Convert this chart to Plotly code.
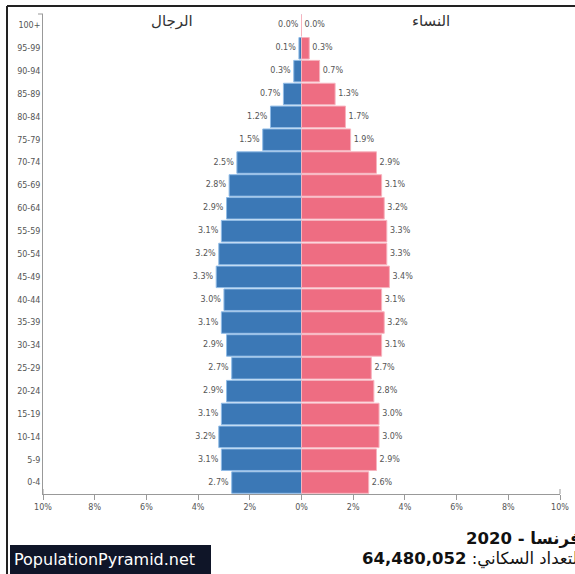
import plotly.graph_objects as go

age_groups = ["0-4", "5-9", "10-14", "15-19", "20-24", "25-29", "30-34", "35-39",
              "40-44", "45-49", "50-54", "55-59", "60-64", "65-69", "70-74", "75-79",
              "80-84", "85-89", "90-94", "95-99", "100+"]
male_pct = [2.7, 3.1, 3.2, 3.1, 2.9, 2.7, 2.9, 3.1, 3.0, 3.3, 3.2, 3.1, 2.9, 2.8, 2.5, 1.5,
            1.2, 0.7, 0.3, 0.1, 0.0]
female_pct = [2.6, 2.9, 3.0, 3.0, 2.8, 2.7, 3.1, 3.2, 3.1, 3.4, 3.3, 3.3, 3.2, 3.1, 2.9, 1.9,
              1.7, 1.3, 0.7, 0.3, 0.0]
x_tick_vals = [-10, -8, -6, -4, -2, 0, 2, 4, 6, 8, 10]
x_tick_text = ["10%", "8%", "6%", "4%", "2%", "0%", "2%", "4%", "6%", "8%", "10%"]

W, H = 575, 574
ML, MR, MT, MB = 43, 15, 14, 80
PW, PH = W - ML - MR, H - MT - MB


def px_x(p):
    return (p - ML) / PW


def px_y(p):
    return (H - MB - p) / PH


BLUE = "#3b78b6"
PINK = "#ee6d82"
FONT = "DejaVu Sans"

fig = go.Figure()
fig.add_trace(go.Bar(
    y=age_groups, x=[-v for v in male_pct], orientation="h",
    marker=dict(color=BLUE, line=dict(color="#8fbbe6", width=1)),
    hoverinfo="skip", showlegend=False,
))
fig.add_trace(go.Bar(
    y=age_groups, x=female_pct, orientation="h",
    marker=dict(color=PINK, line=dict(color="#f7b3be", width=1)),
    hoverinfo="skip", showlegend=False,
))
fig.add_trace(go.Scatter(
    y=age_groups, x=[-v - 0.12 for v in male_pct], mode="text",
    text=[f"{v:.1f}%" for v in male_pct], textposition="middle left",
    textfont=dict(family=FONT, size=8, color="#555"),
    hoverinfo="skip", showlegend=False,
))
fig.add_trace(go.Scatter(
    y=age_groups, x=[v + 0.12 for v in female_pct], mode="text",
    text=[f"{v:.1f}%" for v in female_pct], textposition="middle right",
    textfont=dict(family=FONT, size=8, color="#555"),
    hoverinfo="skip", showlegend=False,
))

fig.update_layout(
    width=W, height=H,
    margin=dict(l=ML, r=MR, t=MT, b=MB, pad=0, autoexpand=False),
    paper_bgcolor="white", plot_bgcolor="white",
    barmode="overlay", bargap=0.06,
    font=dict(family=FONT, color="#555"),
    xaxis=dict(
        range=[-10, 10], autorange=False, tickvals=x_tick_vals, ticktext=x_tick_text,
        showgrid=False, zeroline=False, showline=True, linecolor="#999", linewidth=1,
        ticks="outside", ticklen=5, tickcolor="#999", automargin=False,
        tickfont=dict(family=FONT, size=8, color="#555"), fixedrange=True,
    ),
    yaxis=dict(
        categoryorder="array", categoryarray=age_groups,
        range=[-0.5, len(age_groups) - 0.5], autorange=False, automargin=False,
        showgrid=False, zeroline=False, showline=True, linecolor="#999", linewidth=1,
        ticks="", ticklen=0,
        tickfont=dict(family=FONT, size=8, color="#555"), fixedrange=True,
    ),
    shapes=[
        # outer frame (top and left)
        dict(type="line", xref="paper", yref="paper", x0=px_x(7), x1=px_x(W + 5),
             y0=px_y(6), y1=px_y(6), line=dict(color="#222", width=2)),
        dict(type="line", xref="paper", yref="paper", x0=px_x(7), x1=px_x(7),
             y0=px_y(6), y1=px_y(H + 5), line=dict(color="#222", width=2)),
        # axis end caps
        dict(type="line", xref="paper", yref="paper", x0=px_x(38), x1=0,
             y0=1, y1=1, line=dict(color="#999", width=1)),
        dict(type="line", xref="paper", yref="paper", x0=0, x1=0,
             y0=0, y1=px_y(H - MB - 5), line=dict(color="#999", width=1)),
        dict(type="line", xref="paper", yref="paper", x0=1, x1=1,
             y0=0, y1=px_y(H - MB - 5), line=dict(color="#999", width=1)),
        # badge
        dict(type="rect", xref="paper", yref="paper", x0=px_x(10), x1=px_x(211),
             y0=px_y(545), y1=px_y(H + 2), fillcolor="#0f1528", line=dict(width=0),
             layer="above"),
    ],
    annotations=[
        dict(text="الرجال", xref="paper", yref="paper", x=px_x(172), y=px_y(21),
             xanchor="center", yanchor="middle", showarrow=False,
             font=dict(family=FONT, size=15, color="#333")),
        dict(text="النساء", xref="paper", yref="paper", x=px_x(431), y=px_y(21),
             xanchor="center", yanchor="middle", showarrow=False,
             font=dict(family=FONT, size=15, color="#333")),
        dict(text="PopulationPyramid.net", xref="paper", yref="paper", x=px_x(12), y=px_y(559),
             xanchor="left", yanchor="middle", showarrow=False,
             font=dict(family=FONT, size=16, color="white")),
        dict(text="<b>فرنسا - 2020</b>", xref="paper", yref="paper", x=px_x(583), y=px_y(539),
             xanchor="right", yanchor="middle", showarrow=False,
             font=dict(family=FONT, size=16.5, color="#111")),
        dict(text="التعداد السكاني: <b>64,480,052</b>", xref="paper", yref="paper",
             x=px_x(584), y=px_y(559),
             xanchor="right", yanchor="middle", showarrow=False,
             font=dict(family=FONT, size=16.5, color="#111")),
    ],
)

fig.write_html(
    "out.html",
    config={"displayModeBar": False},
    post_script="document.body.style.margin='0';document.body.style.overflow='hidden';",
)
